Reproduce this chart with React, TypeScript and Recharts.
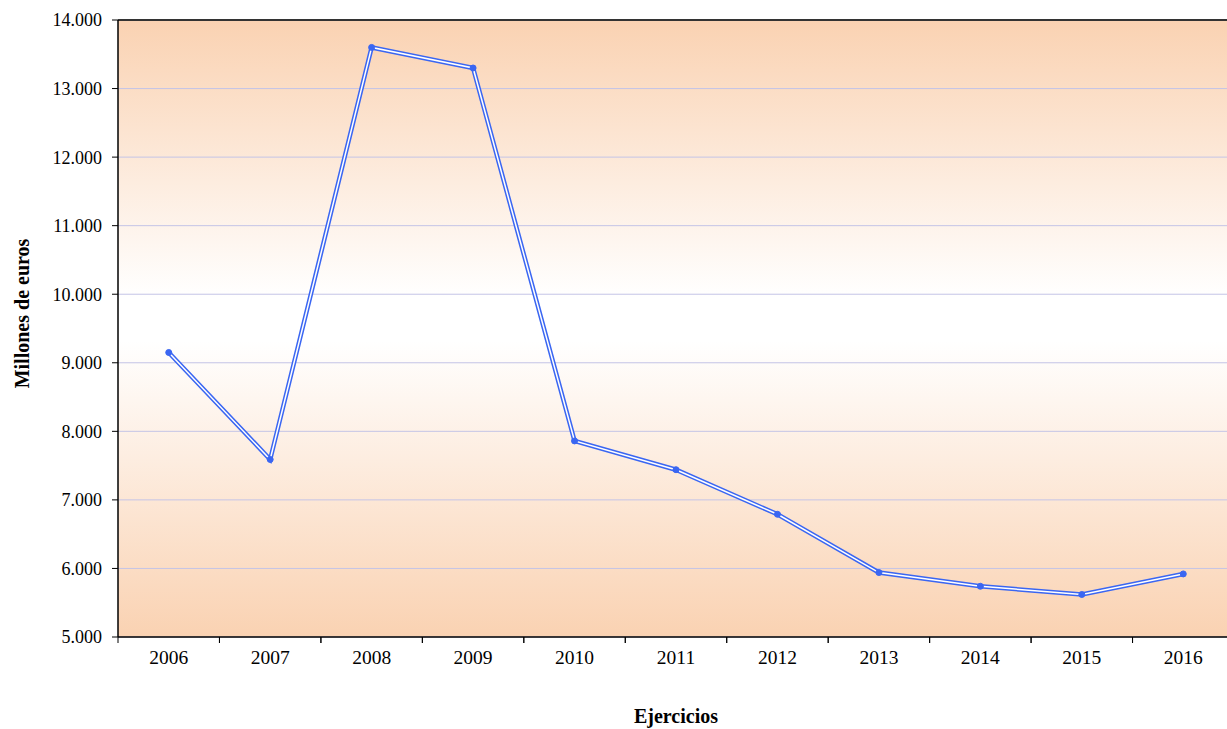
import React from 'react';
import { LineChart, Line, XAxis, YAxis, CartesianGrid, ReferenceLine, Label } from 'recharts';

const years = ['2006', '2007', '2008', '2009', '2010', '2011', '2012', '2013', '2014', '2015', '2016'];
const values = [9150, 7590, 13600, 13300, 7860, 7440, 6790, 5940, 5740, 5620, 5920];
const yTicks = [5000, 6000, 7000, 8000, 9000, 10000, 11000, 12000, 13000, 14000];

const data = years.map((y, i) => ({ year: y, value: values[i] }));

const fmt = (v: number) => String(v).replace(/\B(?=(\d{3})+(?!\d))/g, '.');

const FONT = '"Liberation Serif", "Times New Roman", serif';
const BLUE = '#3A66F2';
const TICK_MARGIN = 13;

const YearTick = (props: any) => {
  const { x, y, payload } = props;
  const half = payload && typeof payload.offset === 'number' && payload.offset > 0 ? payload.offset : 50.75;
  const axisY = y - TICK_MARGIN;
  return (
    <g>
      <line x1={x - half} y1={axisY} x2={x - half} y2={axisY + 6} stroke="#000" strokeWidth={1} />
      <line x1={x + half} y1={axisY} x2={x + half} y2={axisY + 6} stroke="#000" strokeWidth={1} />
      <text x={x} y={y} dy="0.71em" textAnchor="middle" fill="#000" fontFamily={FONT} fontSize={19.5}>
        {payload.value}
      </text>
    </g>
  );
};

export default function App() {
  return (
    <div style={{ position: 'absolute', left: 0, top: 0, width: 1227, height: 729, overflow: 'hidden', background: '#fff' }}>
      <LineChart width={1234} height={729} data={data} margin={{ top: 20, right: 0, left: 0, bottom: 0 }}>
        <defs>
          <linearGradient id="bg" x1="0" y1="0" x2="0" y2="1">
            <stop offset="0%" stopColor="#FAD2B2" />
            <stop offset="45%" stopColor="#FFFFFF" />
            <stop offset="52%" stopColor="#FFFFFF" />
            <stop offset="100%" stopColor="#FAD2B2" />
          </linearGradient>
        </defs>
        <CartesianGrid vertical={false} stroke="#C4C4E6" strokeWidth={1} fill="url(#bg)" fillOpacity={1} />
        <XAxis
          dataKey="year"
          scale="band"
          height={92}
          axisLine={{ stroke: '#000', strokeWidth: 1.5 }}
          tickLine={false}
          tickSize={0}
          tickMargin={TICK_MARGIN}
          tick={<YearTick />}
          interval={0}
        >
          <Label
            value="Ejercicios"
            position="insideBottom"
            offset={6}
            style={{ fill: '#000', fontFamily: FONT, fontSize: 20, fontWeight: 'bold' }}
          />
        </XAxis>
        <YAxis
          width={118}
          domain={[5000, 14000]}
          ticks={yTicks}
          tickFormatter={fmt}
          interval={0}
          tickSize={6}
          tickMargin={10}
          axisLine={{ stroke: '#000', strokeWidth: 1.5 }}
          tickLine={{ stroke: '#000' }}
          tick={{ fill: '#000', fontFamily: FONT, fontSize: 18 }}
        >
          <Label
            content={(props: any) => {
              const vb = props.viewBox;
              const cx = 22;
              const cy = vb.y + vb.height / 2 - 15;
              return (
                <text
                  x={cx}
                  y={cy}
                  transform={`rotate(-90, ${cx}, ${cy})`}
                  textAnchor="middle"
                  dominantBaseline="central"
                  style={{ fill: '#000', fontFamily: FONT, fontSize: 20, fontWeight: 'bold' }}
                >
                  Millones de euros
                </text>
              );
            }}
          />
        </YAxis>
        <ReferenceLine y={14000} stroke="#333" strokeWidth={2} />
        <Line
          dataKey="value"
          stroke={BLUE}
          strokeWidth={4.5}
          dot={{ r: 3, fill: BLUE, stroke: BLUE, strokeWidth: 1 }}
          isAnimationActive={false}
        />
        <Line
          dataKey="value"
          stroke="#FFFFFF"
          strokeWidth={1.5}
          dot={false}
          activeDot={false}
          isAnimationActive={false}
        />
      </LineChart>
    </div>
  );
}
